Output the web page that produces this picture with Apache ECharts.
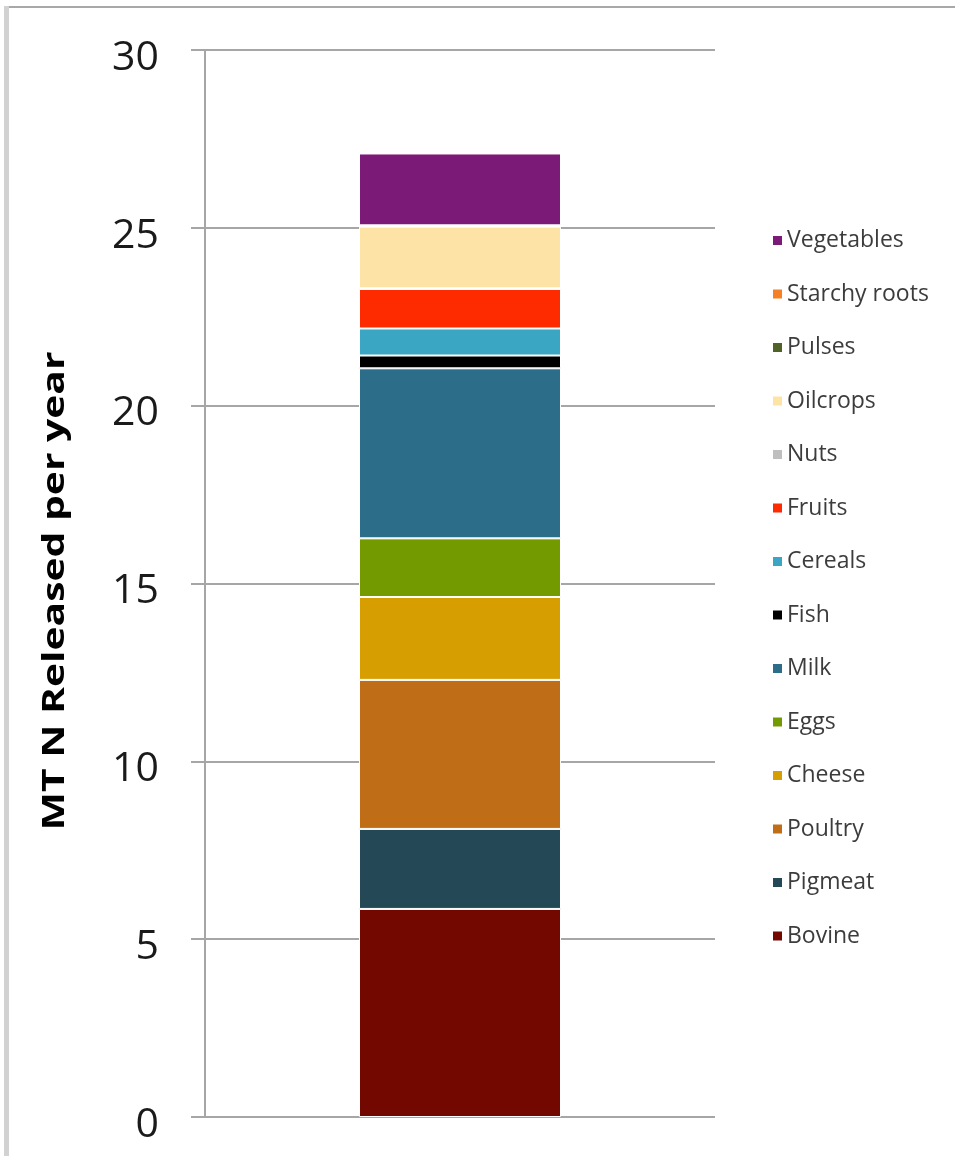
<!DOCTYPE html>
<html>
<head>
<meta charset="utf-8">
<script src="https://cdn.jsdelivr.net/npm/echarts@6/dist/echarts.min.js"></script>
<style>
  html, body { margin: 0; padding: 0; background: #fff; }
  #chart { width: 955px; height: 1156px; }
</style>
</head>
<body>
<div id="chart"></div>
<script>
// Nitrogen released per year by food group (MT N), stacked bottom to top
const categories = [''];
const seriesNames = ['Bovine', 'Pigmeat', 'Poultry', 'Cheese', 'Eggs', 'Milk', 'Fish',
  'Cereals', 'Fruits', 'Nuts', 'Oilcrops', 'Pulses', 'Starchy roots', 'Vegetables'];
const seriesValues = [5.85, 2.25, 4.19, 2.33, 1.65, 4.78, 0.36,
  0.76, 1.11, 0.02, 1.73, 0.02, 0.02, 2.02];
const seriesColors = ['#730800', '#244855', '#c06d18', '#d69e00', '#739b00', '#2c6e8a', '#000000',
  '#3aa6c4', '#fe2a00', '#bfbfbf', '#fde4a6', '#4f6228', '#f58025', '#7b1a77'];
const yTicks = [0, 5, 10, 15, 20, 25, 30];
const yTitle = 'MT N Released per year';

const chart = echarts.init(document.getElementById('chart'), null, { renderer: 'canvas' });

const series = seriesNames.map((name, i) => ({
  name: name,
  type: 'bar',
  stack: 'total',
  barWidth: 202,
  data: [seriesValues[i]],
  itemStyle: { color: seriesColors[i], borderColor: '#ffffff', borderWidth: 1 },
  emphasis: { disabled: true }
}));

chart.setOption({
  animation: false,
  backgroundColor: '#ffffff',
  color: seriesColors,
  grid: { left: 205, right: 240, top: 50, bottom: 39, containLabel: false },
  xAxis: {
    type: 'category',
    data: categories,
    axisLine: { show: false },
    axisTick: { show: false },
    axisLabel: { show: false }
  },
  yAxis: {
    type: 'value',
    min: yTicks[0],
    max: yTicks[yTicks.length - 1],
    interval: yTicks[1] - yTicks[0],
    axisLine: { show: true, lineStyle: { color: '#a6a6a6', width: 2 } },
    axisTick: { show: true, inside: false, length: 14, lineStyle: { color: '#a6a6a6', width: 2 } },
    axisLabel: {
      margin: 46, fontFamily: 'Open Sans', fontSize: 41, color: '#1a1a1a',
      verticalAlign: 'top', lineHeight: 16
    },
    splitLine: { show: true, lineStyle: { color: '#a6a6a6', width: 2 } }
  },
  legend: {
    orient: 'vertical',
    left: 766,
    top: 224,
    data: seriesNames.slice().reverse(),
    itemWidth: 11,
    itemHeight: 11,
    itemGap: 30.5,
    icon: 'rect',
    selectedMode: false,
    textStyle: { fontFamily: 'Open Sans', fontSize: 23, color: '#3c3c3c', lineHeight: 21, padding: [0, 0, 0, -1] }
  },
  graphic: [
    { type: 'rect', shape: { x: 5, y: 6, width: 950, height: 2 }, style: { fill: '#a8a8a8' }, silent: true },
    { type: 'rect', shape: { x: 4, y: 6, width: 5, height: 1150 }, style: { fill: '#d2d2d2' }, silent: true },
    {
      type: 'text',
      x: 55, y: 591,
      rotation: Math.PI / 2,
      scaleX: 1.36,
      silent: true,
      style: {
        text: yTitle,
        fontFamily: 'Open Sans',
        fontWeight: 'bold',
        fontSize: 30,
        fill: '#000000',
        align: 'center',
        verticalAlign: 'middle'
      }
    }
  ],
  series: series
});
</script>
</body>
</html>
